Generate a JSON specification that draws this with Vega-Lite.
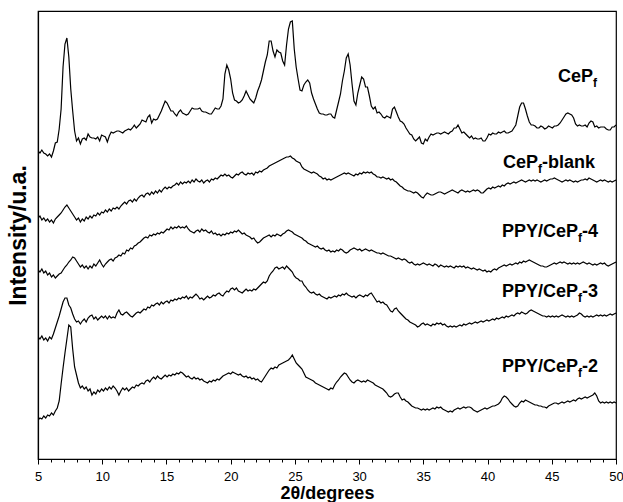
{
  "$schema": "https://vega.github.io/schema/vega-lite/v6.json",
  "width": 578,
  "height": 448,
  "autosize": "none",
  "padding": {"left": 38, "top": 11, "right": 7, "bottom": 43},
  "background": "white",
  "config": {
    "view": {"stroke": "#000", "strokeWidth": 1.2},
    "font": "Liberation Sans"
  },
  "resolve": {"axis": {"x": "independent"}},
  "datasets": {
    "xrd": [
{"x":5.00,"a":308,"b":241,"c":189,"d":122,"e":39},
{"x":5.15,"a":306,"b":243,"c":187,"d":120,"e":41},
{"x":5.30,"a":309,"b":239,"c":190,"d":123,"e":40},
{"x":5.45,"a":306,"b":241,"c":186,"d":119,"e":43},
{"x":5.60,"a":305,"b":238,"c":188,"d":121,"e":41},
{"x":5.75,"a":303,"b":240,"c":184,"d":118,"e":44},
{"x":5.90,"a":305,"b":237,"c":186,"d":122,"e":43},
{"x":6.05,"a":302,"b":239,"c":182,"d":120,"e":46},
{"x":6.20,"a":308,"b":236,"c":184,"d":125,"e":44},
{"x":6.35,"a":316,"b":240,"c":181,"d":131,"e":48},
{"x":6.50,"a":317,"b":242,"c":183,"d":137,"e":51},
{"x":6.65,"a":330,"b":244,"c":185,"d":143,"e":58},
{"x":6.80,"a":350,"b":246,"c":186,"d":150,"e":75},
{"x":6.95,"a":392,"b":249,"c":189,"d":157,"e":91},
{"x":7.10,"a":415,"b":252,"c":192,"d":161,"e":106},
{"x":7.25,"a":421,"b":254,"c":194,"d":161,"e":120},
{"x":7.40,"a":402,"b":251,"c":197,"d":154,"e":134},
{"x":7.55,"a":370,"b":248,"c":199,"d":151,"e":132},
{"x":7.70,"a":348,"b":245,"c":202,"d":145,"e":110},
{"x":7.85,"a":328,"b":242,"c":201,"d":140,"e":92},
{"x":8.00,"a":318,"b":239,"c":198,"d":137,"e":84},
{"x":8.15,"a":321,"b":241,"c":195,"d":138,"e":76},
{"x":8.30,"a":315,"b":237,"c":192,"d":135,"e":71},
{"x":8.45,"a":320,"b":240,"c":194,"d":138,"e":73},
{"x":8.60,"a":321,"b":238,"c":191,"d":140,"e":70},
{"x":8.75,"a":319,"b":242,"c":193,"d":137,"e":72},
{"x":8.90,"a":325,"b":240,"c":190,"d":141,"e":68},
{"x":9.05,"a":322,"b":243,"c":193,"d":143,"e":70},
{"x":9.20,"a":321,"b":241,"c":191,"d":144,"e":64},
{"x":9.35,"a":321,"b":244,"c":195,"d":140,"e":67},
{"x":9.50,"a":320,"b":243,"c":193,"d":142,"e":65},
{"x":9.65,"a":322,"b":246,"c":196,"d":139,"e":69},
{"x":9.80,"a":318,"b":244,"c":199,"d":141,"e":67},
{"x":9.95,"a":324,"b":247,"c":195,"d":143,"e":70},
{"x":10.10,"a":323,"b":246,"c":192,"d":141,"e":68},
{"x":10.25,"a":322,"b":249,"c":195,"d":143,"e":71},
{"x":10.40,"a":317,"b":247,"c":197,"d":140,"e":69},
{"x":10.55,"a":323,"b":250,"c":199,"d":143,"e":72},
{"x":10.70,"a":327,"b":248,"c":200,"d":141,"e":70},
{"x":10.85,"a":326,"b":251,"c":198,"d":142,"e":73},
{"x":11.00,"a":327,"b":250,"c":201,"d":141,"e":71},
{"x":11.15,"a":328,"b":252,"c":202,"d":146,"e":68},
{"x":11.30,"a":328,"b":250,"c":204,"d":149,"e":64},
{"x":11.45,"a":327,"b":253,"c":203,"d":145,"e":68},
{"x":11.60,"a":326,"b":255,"c":206,"d":144,"e":71},
{"x":11.75,"a":328,"b":257,"c":205,"d":146,"e":69},
{"x":11.90,"a":329,"b":255,"c":209,"d":147,"e":71},
{"x":12.05,"a":330,"b":258,"c":208,"d":145,"e":68},
{"x":12.20,"a":329,"b":259,"c":211,"d":143,"e":70},
{"x":12.35,"a":331,"b":257,"c":210,"d":142,"e":72},
{"x":12.50,"a":334,"b":260,"c":213,"d":144,"e":71},
{"x":12.65,"a":331,"b":258,"c":214,"d":146,"e":74},
{"x":12.80,"a":333,"b":261,"c":216,"d":147,"e":73},
{"x":12.95,"a":335,"b":263,"c":217,"d":146,"e":75},
{"x":13.10,"a":339,"b":264,"c":219,"d":148,"e":76},
{"x":13.25,"a":338,"b":262,"c":221,"d":150,"e":75},
{"x":13.40,"a":337,"b":265,"c":222,"d":149,"e":78},
{"x":13.55,"a":342,"b":266,"c":221,"d":152,"e":79},
{"x":13.70,"a":344,"b":264,"c":224,"d":151,"e":77},
{"x":13.85,"a":336,"b":267,"c":223,"d":154,"e":80},
{"x":14.00,"a":340,"b":265,"c":225,"d":153,"e":82},
{"x":14.15,"a":339,"b":268,"c":224,"d":155,"e":80},
{"x":14.30,"a":340,"b":266,"c":226,"d":156,"e":83},
{"x":14.45,"a":344,"b":269,"c":225,"d":154,"e":81},
{"x":14.60,"a":348,"b":267,"c":227,"d":157,"e":80},
{"x":14.75,"a":353,"b":270,"c":226,"d":155,"e":82},
{"x":14.90,"a":358,"b":272,"c":228,"d":157,"e":84},
{"x":15.05,"a":356,"b":270,"c":230,"d":158,"e":82},
{"x":15.20,"a":352,"b":272,"c":229,"d":156,"e":84},
{"x":15.35,"a":348,"b":271,"c":232,"d":159,"e":83},
{"x":15.50,"a":348,"b":273,"c":230,"d":158,"e":85},
{"x":15.65,"a":345,"b":274,"c":232,"d":160,"e":84},
{"x":15.80,"a":343,"b":276,"c":231,"d":159,"e":86},
{"x":15.95,"a":347,"b":274,"c":233,"d":161,"e":85},
{"x":16.10,"a":349,"b":277,"c":231,"d":160,"e":87},
{"x":16.25,"a":346,"b":275,"c":232,"d":162,"e":86},
{"x":16.40,"a":345,"b":277,"c":231,"d":161,"e":84},
{"x":16.55,"a":344,"b":276,"c":233,"d":163,"e":82},
{"x":16.70,"a":345,"b":278,"c":230,"d":160,"e":83},
{"x":16.85,"a":348,"b":276,"c":228,"d":162,"e":81},
{"x":17.00,"a":351,"b":279,"c":227,"d":161,"e":80},
{"x":17.15,"a":350,"b":277,"c":226,"d":163,"e":82},
{"x":17.30,"a":350,"b":280,"c":228,"d":165,"e":80},
{"x":17.45,"a":350,"b":278,"c":229,"d":163,"e":81},
{"x":17.60,"a":351,"b":277,"c":227,"d":160,"e":79},
{"x":17.75,"a":348,"b":279,"c":230,"d":161,"e":80},
{"x":17.90,"a":347,"b":276,"c":228,"d":159,"e":78},
{"x":18.05,"a":347,"b":278,"c":229,"d":161,"e":77},
{"x":18.20,"a":346,"b":279,"c":227,"d":163,"e":76},
{"x":18.35,"a":345,"b":277,"c":226,"d":161,"e":78},
{"x":18.50,"a":345,"b":280,"c":228,"d":162,"e":77},
{"x":18.65,"a":348,"b":279,"c":225,"d":164,"e":79},
{"x":18.80,"a":351,"b":281,"c":226,"d":163,"e":78},
{"x":18.95,"a":350,"b":280,"c":224,"d":165,"e":80},
{"x":19.10,"a":350,"b":282,"c":225,"d":166,"e":79},
{"x":19.25,"a":353,"b":284,"c":223,"d":164,"e":81},
{"x":19.40,"a":360,"b":283,"c":225,"d":163,"e":83},
{"x":19.55,"a":385,"b":285,"c":224,"d":166,"e":84},
{"x":19.70,"a":394,"b":283,"c":226,"d":168,"e":85},
{"x":19.85,"a":389,"b":284,"c":225,"d":167,"e":86},
{"x":20.00,"a":380,"b":282,"c":227,"d":170,"e":85},
{"x":20.15,"a":366,"b":281,"c":226,"d":171,"e":87},
{"x":20.30,"a":359,"b":283,"c":228,"d":169,"e":86},
{"x":20.45,"a":358,"b":285,"c":227,"d":171,"e":85},
{"x":20.60,"a":356,"b":284,"c":229,"d":168,"e":84},
{"x":20.75,"a":357,"b":286,"c":227,"d":167,"e":85},
{"x":20.90,"a":359,"b":287,"c":225,"d":166,"e":83},
{"x":21.05,"a":363,"b":285,"c":226,"d":168,"e":82},
{"x":21.20,"a":368,"b":284,"c":224,"d":170,"e":83},
{"x":21.35,"a":364,"b":286,"c":223,"d":168,"e":81},
{"x":21.50,"a":360,"b":285,"c":222,"d":169,"e":82},
{"x":21.65,"a":358,"b":286,"c":220,"d":168,"e":80},
{"x":21.80,"a":356,"b":284,"c":221,"d":170,"e":81},
{"x":21.95,"a":361,"b":287,"c":218,"d":169,"e":79},
{"x":22.10,"a":368,"b":286,"c":216,"d":171,"e":80},
{"x":22.25,"a":373,"b":288,"c":217,"d":173,"e":78},
{"x":22.40,"a":379,"b":287,"c":219,"d":175,"e":77},
{"x":22.55,"a":388,"b":289,"c":221,"d":177,"e":80},
{"x":22.70,"a":397,"b":290,"c":222,"d":176,"e":83},
{"x":22.85,"a":404,"b":291,"c":223,"d":178,"e":86},
{"x":23.00,"a":418,"b":293,"c":224,"d":183,"e":89},
{"x":23.15,"a":418,"b":294,"c":222,"d":186,"e":91},
{"x":23.30,"a":408,"b":295,"c":224,"d":188,"e":90},
{"x":23.45,"a":402,"b":296,"c":223,"d":191,"e":92},
{"x":23.60,"a":409,"b":297,"c":225,"d":192,"e":91},
{"x":23.75,"a":407,"b":298,"c":224,"d":190,"e":94},
{"x":23.90,"a":406,"b":299,"c":223,"d":191,"e":95},
{"x":24.05,"a":398,"b":300,"c":225,"d":192,"e":96},
{"x":24.20,"a":394,"b":301,"c":226,"d":190,"e":97},
{"x":24.35,"a":414,"b":302,"c":228,"d":193,"e":98},
{"x":24.50,"a":430,"b":302,"c":229,"d":191,"e":99},
{"x":24.65,"a":437,"b":303,"c":228,"d":189,"e":101},
{"x":24.80,"a":438,"b":301,"c":227,"d":187,"e":104},
{"x":24.95,"a":410,"b":300,"c":225,"d":183,"e":100},
{"x":25.10,"a":392,"b":298,"c":224,"d":181,"e":96},
{"x":25.25,"a":380,"b":297,"c":223,"d":180,"e":94},
{"x":25.40,"a":369,"b":296,"c":222,"d":178,"e":92},
{"x":25.55,"a":368,"b":292,"c":221,"d":178,"e":90},
{"x":25.70,"a":374,"b":290,"c":219,"d":174,"e":86},
{"x":25.85,"a":377,"b":289,"c":218,"d":172,"e":82},
{"x":26.00,"a":379,"b":288,"c":216,"d":169,"e":81},
{"x":26.15,"a":376,"b":287,"c":215,"d":167,"e":80},
{"x":26.30,"a":366,"b":286,"c":214,"d":166,"e":79},
{"x":26.45,"a":360,"b":287,"c":213,"d":167,"e":78},
{"x":26.60,"a":355,"b":286,"c":212,"d":165,"e":76},
{"x":26.75,"a":350,"b":285,"c":213,"d":164,"e":75},
{"x":26.90,"a":346,"b":283,"c":211,"d":165,"e":74},
{"x":27.05,"a":345,"b":282,"c":210,"d":163,"e":73},
{"x":27.20,"a":345,"b":280,"c":211,"d":162,"e":72},
{"x":27.35,"a":344,"b":281,"c":209,"d":161,"e":71},
{"x":27.50,"a":344,"b":279,"c":208,"d":160,"e":70},
{"x":27.65,"a":345,"b":280,"c":209,"d":162,"e":69},
{"x":27.80,"a":345,"b":279,"c":207,"d":161,"e":71},
{"x":27.95,"a":342,"b":280,"c":208,"d":162,"e":70},
{"x":28.10,"a":341,"b":281,"c":207,"d":163,"e":74},
{"x":28.25,"a":349,"b":282,"c":209,"d":162,"e":77},
{"x":28.40,"a":357,"b":283,"c":208,"d":164,"e":79},
{"x":28.55,"a":365,"b":284,"c":210,"d":163,"e":82},
{"x":28.70,"a":378,"b":285,"c":209,"d":165,"e":84},
{"x":28.85,"a":388,"b":286,"c":207,"d":164,"e":86},
{"x":29.00,"a":401,"b":285,"c":206,"d":166,"e":85},
{"x":29.15,"a":405,"b":286,"c":207,"d":164,"e":82},
{"x":29.30,"a":394,"b":285,"c":209,"d":163,"e":79},
{"x":29.45,"a":375,"b":284,"c":210,"d":162,"e":77},
{"x":29.60,"a":358,"b":283,"c":211,"d":163,"e":76},
{"x":29.75,"a":354,"b":285,"c":210,"d":161,"e":78},
{"x":29.90,"a":366,"b":284,"c":209,"d":163,"e":79},
{"x":30.05,"a":374,"b":286,"c":210,"d":164,"e":78},
{"x":30.20,"a":382,"b":285,"c":208,"d":163,"e":77},
{"x":30.35,"a":380,"b":287,"c":209,"d":162,"e":78},
{"x":30.50,"a":372,"b":286,"c":210,"d":164,"e":77},
{"x":30.65,"a":372,"b":287,"c":209,"d":163,"e":79},
{"x":30.80,"a":363,"b":286,"c":208,"d":165,"e":78},
{"x":30.95,"a":353,"b":287,"c":209,"d":166,"e":77},
{"x":31.10,"a":350,"b":285,"c":208,"d":163,"e":76},
{"x":31.25,"a":352,"b":284,"c":207,"d":160,"e":74},
{"x":31.40,"a":346,"b":282,"c":206,"d":157,"e":73},
{"x":31.55,"a":347,"b":282,"c":206,"d":158,"e":72},
{"x":31.70,"a":345,"b":281,"c":205,"d":156,"e":71},
{"x":31.85,"a":342,"b":282,"c":206,"d":157,"e":70},
{"x":32.00,"a":341,"b":281,"c":205,"d":155,"e":68},
{"x":32.15,"a":343,"b":280,"c":204,"d":154,"e":66},
{"x":32.30,"a":342,"b":281,"c":203,"d":151,"e":63},
{"x":32.45,"a":341,"b":279,"c":203,"d":148,"e":62},
{"x":32.60,"a":350,"b":280,"c":202,"d":147,"e":63},
{"x":32.75,"a":352,"b":278,"c":201,"d":150,"e":65},
{"x":32.90,"a":347,"b":277,"c":200,"d":151,"e":66},
{"x":33.05,"a":342,"b":275,"c":201,"d":148,"e":66},
{"x":33.20,"a":338,"b":273,"c":200,"d":146,"e":62},
{"x":33.35,"a":337,"b":272,"c":199,"d":144,"e":59},
{"x":33.50,"a":335,"b":270,"c":200,"d":142,"e":60},
{"x":33.65,"a":331,"b":269,"c":199,"d":140,"e":58},
{"x":33.80,"a":328,"b":268,"c":197,"d":139,"e":57},
{"x":33.95,"a":325,"b":268,"c":196,"d":137,"e":55},
{"x":34.10,"a":324,"b":267,"c":197,"d":136,"e":53},
{"x":34.25,"a":320,"b":266,"c":195,"d":135,"e":52},
{"x":34.40,"a":318,"b":267,"c":194,"d":134,"e":51},
{"x":34.55,"a":320,"b":266,"c":195,"d":132,"e":51},
{"x":34.70,"a":322,"b":264,"c":194,"d":133,"e":50},
{"x":34.85,"a":316,"b":262,"c":195,"d":135,"e":49},
{"x":35.00,"a":315,"b":261,"c":196,"d":136,"e":50},
{"x":35.15,"a":320,"b":264,"c":195,"d":134,"e":49},
{"x":35.30,"a":318,"b":266,"c":194,"d":135,"e":50},
{"x":35.45,"a":322,"b":265,"c":195,"d":134,"e":49},
{"x":35.60,"a":325,"b":264,"c":194,"d":133,"e":50},
{"x":35.75,"a":324,"b":264,"c":193,"d":135,"e":51},
{"x":35.90,"a":325,"b":265,"c":195,"d":134,"e":50},
{"x":36.05,"a":326,"b":266,"c":194,"d":136,"e":52},
{"x":36.20,"a":326,"b":267,"c":192,"d":135,"e":51},
{"x":36.35,"a":325,"b":267,"c":194,"d":136,"e":52},
{"x":36.50,"a":326,"b":266,"c":193,"d":134,"e":50},
{"x":36.65,"a":327,"b":265,"c":192,"d":135,"e":49},
{"x":36.80,"a":326,"b":266,"c":193,"d":133,"e":48},
{"x":36.95,"a":325,"b":267,"c":192,"d":132,"e":47},
{"x":37.10,"a":327,"b":268,"c":193,"d":133,"e":48},
{"x":37.25,"a":328,"b":269,"c":192,"d":132,"e":47},
{"x":37.40,"a":331,"b":268,"c":191,"d":133,"e":49},
{"x":37.55,"a":331,"b":267,"c":193,"d":132,"e":50},
{"x":37.70,"a":334,"b":266,"c":192,"d":133,"e":51},
{"x":37.85,"a":330,"b":268,"c":193,"d":134,"e":50},
{"x":38.00,"a":326,"b":269,"c":192,"d":133,"e":51},
{"x":38.15,"a":327,"b":268,"c":193,"d":135,"e":52},
{"x":38.30,"a":325,"b":267,"c":191,"d":134,"e":51},
{"x":38.45,"a":323,"b":268,"c":192,"d":135,"e":52},
{"x":38.60,"a":321,"b":267,"c":191,"d":136,"e":52},
{"x":38.75,"a":323,"b":268,"c":190,"d":135,"e":51},
{"x":38.90,"a":320,"b":269,"c":191,"d":136,"e":49},
{"x":39.05,"a":321,"b":268,"c":190,"d":137,"e":48},
{"x":39.20,"a":320,"b":269,"c":189,"d":136,"e":47},
{"x":39.35,"a":320,"b":268,"c":190,"d":137,"e":48},
{"x":39.50,"a":321,"b":266,"c":189,"d":138,"e":49},
{"x":39.65,"a":318,"b":266,"c":188,"d":137,"e":50},
{"x":39.80,"a":318,"b":268,"c":189,"d":138,"e":51},
{"x":39.95,"a":321,"b":270,"c":187,"d":139,"e":50},
{"x":40.10,"a":325,"b":271,"c":188,"d":138,"e":51},
{"x":40.25,"a":324,"b":270,"c":187,"d":139,"e":52},
{"x":40.40,"a":326,"b":272,"c":189,"d":140,"e":53},
{"x":40.55,"a":325,"b":271,"c":190,"d":139,"e":53},
{"x":40.70,"a":325,"b":272,"c":189,"d":141,"e":54},
{"x":40.85,"a":327,"b":273,"c":191,"d":140,"e":55},
{"x":41.00,"a":326,"b":272,"c":192,"d":141,"e":57},
{"x":41.15,"a":327,"b":274,"c":193,"d":142,"e":61},
{"x":41.30,"a":328,"b":273,"c":194,"d":141,"e":63},
{"x":41.45,"a":326,"b":275,"c":193,"d":143,"e":62},
{"x":41.60,"a":326,"b":276,"c":194,"d":142,"e":60},
{"x":41.75,"a":327,"b":275,"c":195,"d":143,"e":57},
{"x":41.90,"a":328,"b":276,"c":194,"d":144,"e":55},
{"x":42.05,"a":331,"b":277,"c":195,"d":143,"e":53},
{"x":42.20,"a":334,"b":276,"c":196,"d":145,"e":52},
{"x":42.35,"a":343,"b":277,"c":195,"d":146,"e":53},
{"x":42.50,"a":352,"b":278,"c":197,"d":145,"e":56},
{"x":42.65,"a":356,"b":279,"c":196,"d":147,"e":58},
{"x":42.80,"a":356,"b":278,"c":198,"d":146,"e":57},
{"x":42.95,"a":350,"b":277,"c":197,"d":145,"e":59},
{"x":43.10,"a":343,"b":278,"c":198,"d":146,"e":58},
{"x":43.25,"a":337,"b":279,"c":199,"d":148,"e":57},
{"x":43.40,"a":334,"b":278,"c":198,"d":149,"e":56},
{"x":43.55,"a":334,"b":279,"c":197,"d":148,"e":55},
{"x":43.70,"a":333,"b":278,"c":196,"d":147,"e":54},
{"x":43.85,"a":331,"b":279,"c":195,"d":146,"e":54},
{"x":44.00,"a":331,"b":278,"c":194,"d":145,"e":53},
{"x":44.15,"a":333,"b":277,"c":193,"d":144,"e":53},
{"x":44.30,"a":332,"b":278,"c":193,"d":143,"e":52},
{"x":44.45,"a":330,"b":279,"c":192,"d":143,"e":52},
{"x":44.60,"a":331,"b":278,"c":192,"d":142,"e":51},
{"x":44.75,"a":333,"b":279,"c":193,"d":143,"e":53},
{"x":44.90,"a":332,"b":280,"c":194,"d":142,"e":54},
{"x":45.05,"a":331,"b":280,"c":195,"d":143,"e":55},
{"x":45.20,"a":333,"b":281,"c":196,"d":142,"e":56},
{"x":45.35,"a":333,"b":280,"c":195,"d":143,"e":56},
{"x":45.50,"a":334,"b":279,"c":196,"d":142,"e":55},
{"x":45.65,"a":336,"b":278,"c":197,"d":143,"e":56},
{"x":45.80,"a":339,"b":277,"c":196,"d":144,"e":57},
{"x":45.95,"a":342,"b":278,"c":197,"d":143,"e":56},
{"x":46.10,"a":345,"b":279,"c":196,"d":142,"e":57},
{"x":46.25,"a":346,"b":278,"c":195,"d":143,"e":58},
{"x":46.40,"a":345,"b":279,"c":196,"d":142,"e":57},
{"x":46.55,"a":344,"b":278,"c":195,"d":143,"e":58},
{"x":46.70,"a":341,"b":277,"c":196,"d":142,"e":59},
{"x":46.85,"a":335,"b":278,"c":195,"d":143,"e":58},
{"x":47.00,"a":333,"b":277,"c":196,"d":144,"e":60},
{"x":47.15,"a":334,"b":278,"c":195,"d":146,"e":61},
{"x":47.30,"a":333,"b":279,"c":196,"d":145,"e":60},
{"x":47.45,"a":333,"b":279,"c":197,"d":143,"e":61},
{"x":47.60,"a":334,"b":280,"c":196,"d":142,"e":62},
{"x":47.75,"a":332,"b":279,"c":195,"d":143,"e":61},
{"x":47.90,"a":336,"b":281,"c":196,"d":142,"e":62},
{"x":48.05,"a":338,"b":280,"c":195,"d":143,"e":63},
{"x":48.20,"a":337,"b":279,"c":194,"d":142,"e":64},
{"x":48.35,"a":332,"b":278,"c":195,"d":143,"e":66},
{"x":48.50,"a":333,"b":277,"c":194,"d":144,"e":63},
{"x":48.65,"a":331,"b":278,"c":195,"d":143,"e":58},
{"x":48.80,"a":332,"b":279,"c":196,"d":144,"e":56},
{"x":48.95,"a":332,"b":278,"c":195,"d":143,"e":57},
{"x":49.10,"a":332,"b":279,"c":196,"d":144,"e":56},
{"x":49.25,"a":330,"b":278,"c":194,"d":143,"e":57},
{"x":49.40,"a":329,"b":277,"c":193,"d":144,"e":56},
{"x":49.55,"a":329,"b":278,"c":194,"d":145,"e":57},
{"x":49.70,"a":332,"b":277,"c":195,"d":144,"e":56},
{"x":49.85,"a":332,"b":278,"c":196,"d":145,"e":57},
{"x":50.00,"a":334,"b":279,"c":197,"d":146,"e":56}
    ],
    "labels": [
      {"t":"CeP","x":45.49,"y":377,"k":"main"},{"t":"f","x":48.21,"y":372,"k":"sub"},
      {"t":"CeP","x":41.20,"y":291,"k":"main"},{"t":"f","x":43.93,"y":286,"k":"sub"},{"t":"-blank","x":44.24,"y":291,"k":"main"},
      {"t":"PPY/CeP","x":41.13,"y":222,"k":"main"},{"t":"f","x":47.04,"y":217,"k":"sub"},{"t":"-4","x":47.35,"y":222,"k":"main"},
      {"t":"PPY/CeP","x":41.13,"y":162,"k":"main"},{"t":"f","x":47.04,"y":157,"k":"sub"},{"t":"-3","x":47.35,"y":162,"k":"main"},
      {"t":"PPY/CeP","x":41.13,"y":87,"k":"main"},{"t":"f","x":47.04,"y":82,"k":"sub"},{"t":"-2","x":47.35,"y":87,"k":"main"}
    ]
  },
  "layer": [
    {
      "data": {"name": "xrd"},
      "transform": [{"fold": ["a", "b", "c", "d", "e"], "as": ["s", "v"]}],
      "mark": {"type": "line", "color": "#000", "strokeWidth": 1.2, "clip": true},
      "encoding": {
        "x": {
          "field": "x", "type": "quantitative",
          "scale": {"domain": [5, 50], "nice": false, "zero": false},
          "axis": {
            "orient": "bottom",
            "values": [5, 10, 15, 20, 25, 30, 35, 40, 45, 50],
            "labelOverlap": false, "labelFlush": false,
            "labelFont": "Liberation Sans", "labelFontSize": 13, "labelColor": "#000", "labelPadding": 6,
            "tickColor": "#000", "tickWidth": 1, "tickSize": 5,
            "domainColor": "#000", "domainWidth": 1.2,
            "grid": false,
            "title": "2θ/degrees",
            "titleFont": "Liberation Sans", "titleFontSize": 18, "titleFontWeight": "bold", "titleColor": "#000", "titlePadding": 1
          }
        },
        "y": {
          "field": "v", "type": "quantitative",
          "scale": {"domain": [0, 448], "nice": false, "zero": false},
          "axis": {
            "labels": false, "ticks": false, "grid": false,
            "domainColor": "#000", "domainWidth": 1.2,
            "title": "Intensity/u.a.",
            "titleFont": "Liberation Sans", "titleFontSize": 23, "titleFontWeight": "bold", "titleColor": "#000", "titlePadding": 8
          }
        },
        "detail": {"field": "s", "type": "nominal"}
      }
    },
    {
      "data": {"name": "labels"},
      "transform": [{"filter": "datum.k === 'main'"}],
      "mark": {"type": "text", "align": "left", "baseline": "alphabetic", "font": "Liberation Sans", "fontSize": 18, "fontWeight": "bold", "color": "#000"},
      "encoding": {
        "x": {"field": "x", "type": "quantitative", "axis": null},
        "y": {"field": "y", "type": "quantitative"},
        "text": {"field": "t"}
      }
    },
    {
      "data": {"name": "labels"},
      "transform": [{"filter": "datum.k === 'sub'"}],
      "mark": {"type": "text", "align": "left", "baseline": "alphabetic", "font": "Liberation Sans", "fontSize": 12, "fontWeight": "bold", "color": "#000"},
      "encoding": {
        "x": {
          "field": "x", "type": "quantitative",
          "axis": {
            "orient": "bottom",
            "values": [6,7,8,9,11,12,13,14,16,17,18,19,21,22,23,24,26,27,28,29,31,32,33,34,36,37,38,39,41,42,43,44,46,47,48,49],
            "labels": false, "domain": false, "grid": false, "title": null,
            "tickColor": "#000", "tickWidth": 1, "tickSize": 3
          }
        },
        "y": {"field": "y", "type": "quantitative"},
        "text": {"field": "t"}
      }
    }
  ]
}
